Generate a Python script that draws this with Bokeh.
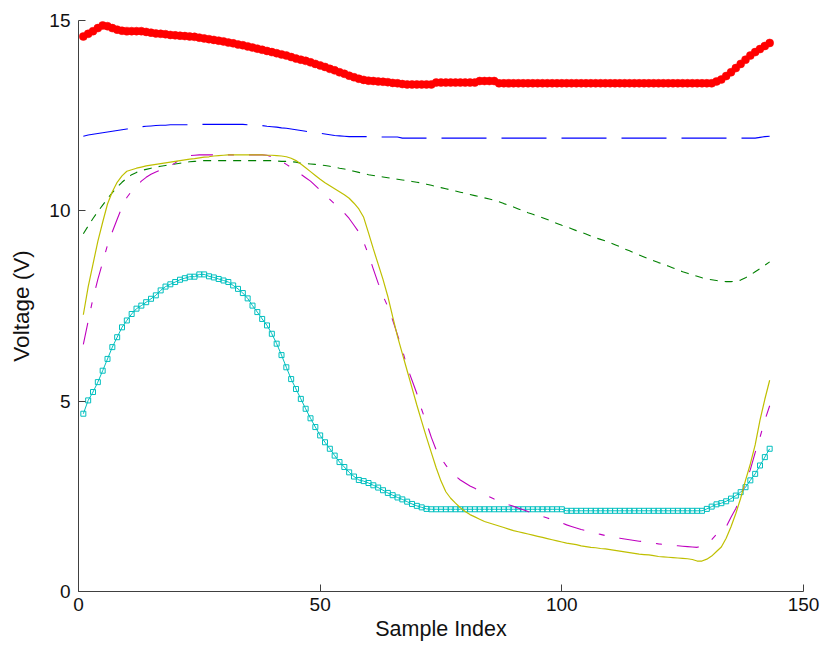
from bokeh.plotting import figure
from bokeh.models import Range1d, FixedTicker
from bokeh.embed import file_html
from bokeh.resources import INLINE

# Sample positions (1-based sample index)
sample_index = list(range(1, 144))

# Top rail, drawn with filled red dots
v_red = [
    14.58, 14.65, 14.72, 14.80, 14.87, 14.85, 14.80, 14.76, 14.73, 14.72,
    14.72, 14.72, 14.72, 14.70, 14.68, 14.66, 14.65, 14.64, 14.62, 14.61,
    14.60, 14.59, 14.58, 14.57, 14.55, 14.53, 14.51, 14.49, 14.47, 14.45,
    14.42, 14.40, 14.37, 14.35, 14.32, 14.29, 14.26, 14.23, 14.20, 14.17,
    14.14, 14.11, 14.08, 14.04, 14.00, 13.97, 13.94, 13.90, 13.86, 13.82,
    13.78, 13.73, 13.69, 13.64, 13.60, 13.55, 13.51, 13.47, 13.44, 13.42,
    13.41, 13.40, 13.39, 13.38, 13.36, 13.35, 13.33, 13.32, 13.32, 13.32,
    13.32, 13.32, 13.32, 13.37, 13.37, 13.37, 13.37, 13.37, 13.37, 13.37,
    13.37, 13.37, 13.41, 13.41, 13.41, 13.41, 13.35, 13.35, 13.35, 13.35,
    13.35, 13.35, 13.35, 13.35, 13.35, 13.35, 13.35, 13.35, 13.35, 13.35,
    13.35, 13.35, 13.35, 13.35, 13.35, 13.35, 13.35, 13.35, 13.35, 13.35,
    13.35, 13.35, 13.35, 13.35, 13.35, 13.35, 13.35, 13.35, 13.35, 13.35,
    13.35, 13.35, 13.35, 13.35, 13.35, 13.35, 13.35, 13.35, 13.35, 13.35,
    13.35, 13.40, 13.45, 13.54, 13.64, 13.75, 13.86, 13.97, 14.08, 14.17,
    14.25, 14.33, 14.41,
]

# Blue long-dashed trace
v_blue = [
    11.96, 11.99, 12.01, 12.03, 12.05, 12.07, 12.09, 12.11, 12.13, 12.15,
    12.17, 12.19, 12.21, 12.22, 12.23, 12.24, 12.25, 12.25, 12.26, 12.26,
    12.26, 12.26, 12.26, 12.26, 12.27, 12.27, 12.27, 12.27, 12.27, 12.27,
    12.27, 12.27, 12.27, 12.27, 12.26, 12.26, 12.25, 12.24, 12.22, 12.21,
    12.20, 12.18, 12.17, 12.15, 12.13, 12.11, 12.09, 12.07, 12.05, 12.04,
    12.02, 12.00, 11.98, 11.97, 11.96, 11.95, 11.95, 11.95, 11.95, 11.95,
    11.94, 11.94, 11.94, 11.94, 11.94, 11.94, 11.91, 11.91, 11.91, 11.91,
    11.91, 11.91, 11.91, 11.91, 11.91, 11.91, 11.91, 11.91, 11.91, 11.91,
    11.91, 11.91, 11.91, 11.91, 11.91, 11.91, 11.91, 11.91, 11.91, 11.91,
    11.91, 11.91, 11.91, 11.91, 11.91, 11.91, 11.91, 11.91, 11.91, 11.91,
    11.91, 11.91, 11.91, 11.91, 11.91, 11.91, 11.91, 11.91, 11.91, 11.91,
    11.91, 11.91, 11.91, 11.91, 11.91, 11.91, 11.91, 11.91, 11.91, 11.91,
    11.91, 11.91, 11.91, 11.91, 11.91, 11.91, 11.91, 11.91, 11.91, 11.91,
    11.91, 11.91, 11.91, 11.91, 11.91, 11.91, 11.91, 11.91, 11.91, 11.91,
    11.93, 11.95, 11.96,
]

# Green short-dashed trace
v_green = [
    9.40, 9.60, 9.80, 9.98, 10.15, 10.32, 10.48, 10.62, 10.75, 10.86,
    10.95, 11.01, 11.06, 11.09, 11.12, 11.15, 11.17, 11.19, 11.21, 11.23,
    11.25, 11.27, 11.29, 11.30, 11.31, 11.32, 11.32, 11.32, 11.32, 11.32,
    11.32, 11.32, 11.32, 11.32, 11.32, 11.32, 11.32, 11.32, 11.32, 11.32,
    11.31, 11.30, 11.30, 11.29, 11.28, 11.25, 11.24, 11.23, 11.22, 11.21,
    11.19, 11.17, 11.15, 11.12, 11.10, 11.07, 11.04, 11.01, 10.98, 10.95,
    10.93, 10.91, 10.89, 10.87, 10.85, 10.83, 10.81, 10.79, 10.77, 10.75,
    10.73, 10.70, 10.67, 10.64, 10.61, 10.58, 10.55, 10.52, 10.49, 10.46,
    10.43, 10.40, 10.37, 10.34, 10.31, 10.28, 10.24, 10.19, 10.15, 10.10,
    10.05, 10.00, 9.95, 9.91, 9.86, 9.82, 9.77, 9.72, 9.67, 9.62,
    9.58, 9.53, 9.48, 9.44, 9.39, 9.34, 9.29, 9.25, 9.21, 9.16,
    9.11, 9.06, 9.00, 8.95, 8.89, 8.84, 8.79, 8.74, 8.69, 8.64,
    8.60, 8.55, 8.50, 8.45, 8.40, 8.36, 8.32, 8.28, 8.24, 8.21,
    8.19, 8.17, 8.15, 8.14, 8.14, 8.15, 8.18, 8.24, 8.31, 8.40,
    8.48, 8.57, 8.66,
]

# Cyan trace with square markers
v_cyan = [
    4.67, 5.02, 5.24, 5.50, 5.80, 6.11, 6.42, 6.68, 6.94, 7.12,
    7.29, 7.43, 7.51, 7.60, 7.69, 7.78, 7.91, 8.01, 8.07, 8.13,
    8.19, 8.23, 8.27, 8.27, 8.33, 8.33, 8.28, 8.25, 8.21, 8.17,
    8.13, 8.04, 7.95, 7.84, 7.70, 7.51, 7.34, 7.16, 6.99, 6.77,
    6.51, 6.21, 5.89, 5.58, 5.32, 5.06, 4.80, 4.55, 4.32, 4.10,
    3.92, 3.75, 3.57, 3.40, 3.27, 3.13, 3.02, 2.93, 2.90, 2.85,
    2.79, 2.73, 2.66, 2.59, 2.53, 2.47, 2.42, 2.36, 2.30, 2.25,
    2.21, 2.17, 2.16, 2.16, 2.16, 2.16, 2.16, 2.16, 2.16, 2.16,
    2.16, 2.16, 2.16, 2.16, 2.16, 2.16, 2.16, 2.16, 2.16, 2.16,
    2.16, 2.16, 2.16, 2.16, 2.16, 2.16, 2.16, 2.16, 2.16, 2.16,
    2.12, 2.12, 2.12, 2.12, 2.12, 2.12, 2.12, 2.12, 2.12, 2.12,
    2.12, 2.12, 2.12, 2.12, 2.12, 2.12, 2.12, 2.12, 2.12, 2.12,
    2.12, 2.12, 2.12, 2.12, 2.12, 2.12, 2.12, 2.12, 2.12, 2.17,
    2.23, 2.29, 2.32, 2.37, 2.44, 2.52, 2.61, 2.74, 2.92, 3.09,
    3.31, 3.53, 3.75,
]

# Magenta dash-dot trace
v_magenta = [
    6.49, 7.10, 7.70, 8.20, 8.65, 9.10, 9.45, 9.78, 10.10, 10.35,
    10.52, 10.65, 10.78, 10.88, 10.96, 11.02, 11.07, 11.12, 11.18, 11.26,
    11.35, 11.42, 11.45, 11.46, 11.47, 11.47, 11.47, 11.47, 11.47, 11.47,
    11.47, 11.47, 11.47, 11.47, 11.47, 11.47, 11.47, 11.47, 11.46, 11.42,
    11.37, 11.30, 11.22, 11.14, 11.05, 10.96, 10.87, 10.78, 10.66, 10.54,
    10.42, 10.30, 10.18, 10.06, 9.94, 9.80, 9.62, 9.44, 9.18, 8.85,
    8.47, 8.10, 7.77, 7.48, 7.13, 6.74, 6.35, 5.89, 5.55, 5.20,
    4.78, 4.43, 4.05, 3.72, 3.50, 3.32, 3.15, 3.03, 2.93, 2.85,
    2.77, 2.71, 2.63, 2.56, 2.49, 2.43, 2.38, 2.33, 2.28, 2.24,
    2.19, 2.15, 2.10, 2.06, 2.01, 1.97, 1.93, 1.89, 1.84, 1.80,
    1.75, 1.71, 1.67, 1.63, 1.60, 1.57, 1.53, 1.50, 1.47, 1.44,
    1.42, 1.40, 1.38, 1.36, 1.34, 1.32, 1.31, 1.29, 1.27, 1.25,
    1.24, 1.22, 1.21, 1.20, 1.19, 1.18, 1.17, 1.16, 1.20, 1.27,
    1.36, 1.50, 1.62, 1.70, 1.95, 2.18, 2.50, 2.85, 3.20, 3.65,
    4.05, 4.50, 4.88,
]

# Yellow solid trace
v_yellow = [
    7.27, 8.00, 8.60, 9.20, 9.70, 10.18, 10.50, 10.75, 10.92, 11.04,
    11.08, 11.12, 11.15, 11.18, 11.20, 11.22, 11.24, 11.26, 11.28, 11.30,
    11.32, 11.34, 11.36, 11.37, 11.39, 11.41, 11.42, 11.44, 11.45, 11.46,
    11.47, 11.47, 11.47, 11.47, 11.47, 11.47, 11.47, 11.47, 11.46, 11.46,
    11.45, 11.44, 11.42, 11.38, 11.32, 11.23, 11.13, 11.03, 10.93, 10.83,
    10.74, 10.66, 10.58, 10.50, 10.42, 10.33, 10.20, 10.05, 9.83, 9.42,
    9.00, 8.60, 8.20, 7.75, 7.22, 6.70, 6.25, 5.80, 5.35, 4.90,
    4.47, 4.05, 3.65, 3.25, 2.90, 2.62, 2.45, 2.32, 2.20, 2.10,
    2.02, 1.96, 1.90, 1.84, 1.80, 1.76, 1.72, 1.68, 1.64, 1.60,
    1.57, 1.54, 1.51, 1.48, 1.45, 1.42, 1.39, 1.36, 1.33, 1.30,
    1.27, 1.25, 1.23, 1.20, 1.18, 1.16, 1.15, 1.13, 1.12, 1.10,
    1.08, 1.06, 1.04, 1.02, 1.00, 0.98, 0.97, 0.96, 0.94, 0.92,
    0.91, 0.90, 0.89, 0.88, 0.87, 0.86, 0.84, 0.80, 0.80, 0.85,
    0.93, 1.05, 1.17, 1.40, 1.70, 2.05, 2.45, 2.92, 3.35, 3.85,
    4.50, 5.05, 5.55,
]

x_ticks = [0, 50, 100, 150]
y_ticks = [0, 5, 10, 15]

FONT = "Liberation Sans"

p = figure(
    width=825, height=652,
    x_range=Range1d(0, 150), y_range=Range1d(0, 15),
    output_backend="svg", toolbar_location=None,
    min_border_left=78, min_border_right=22,
    min_border_top=20, min_border_bottom=61,
)
p.outline_line_color = None
p.background_fill_color = "white"
p.border_fill_color = "white"
p.xgrid.visible = False
p.ygrid.visible = False

# Traces
p.line(sample_index, v_blue, line_color="#0000FF", line_width=1.1, line_dash="45 15")
p.line(sample_index, v_green, line_color="#008000", line_width=1.1, line_dash="8 7")
p.line(sample_index, v_red, line_color="#FF0000", line_width=1)
p.scatter(sample_index, v_red, marker="circle", size=8,
          fill_color="#FF0000", line_color="#FF0000", line_width=0.5)
p.line(sample_index, v_cyan, line_color="#00BFBF", line_width=1)
p.scatter(sample_index, v_cyan, marker="square", size=5,
          fill_alpha=0, line_color="#00BFBF", line_width=1)
p.line(sample_index, v_magenta, line_color="#BF00BF", line_width=1.1, line_dash="22 15 6 15")
p.line(sample_index, v_yellow, line_color="#BFBF00", line_width=1.2)

# Axes styled with inward ticks and no minor ticks
for ax in (p.xaxis[0], p.yaxis[0]):
    ax.axis_line_color = "#404040"
    ax.axis_line_width = 1
    ax.major_tick_line_color = "#404040"
    ax.major_tick_in = 7
    ax.major_tick_out = 0
    ax.minor_tick_line_color = None
    ax.major_label_text_font = FONT
    ax.major_label_text_font_size = "19px"
    ax.major_label_text_color = "#111111"
    ax.axis_label_text_font = FONT
    ax.axis_label_text_font_style = "normal"
    ax.axis_label_text_color = "#111111"

p.xaxis.axis_label_text_font_size = "21.5px"
p.yaxis.axis_label_text_font_size = "22.5px"
p.xaxis.ticker = FixedTicker(ticks=x_ticks)
p.yaxis.ticker = FixedTicker(ticks=y_ticks)
p.xaxis.axis_label = "Sample Index"
p.yaxis.axis_label = "Voltage (V)"
p.xaxis.major_label_standoff = 6
p.yaxis.major_label_standoff = 8
p.xaxis.axis_label_standoff = 3
p.yaxis.axis_label_standoff = 12

open("out.html", "w").write(file_html(p, INLINE))
